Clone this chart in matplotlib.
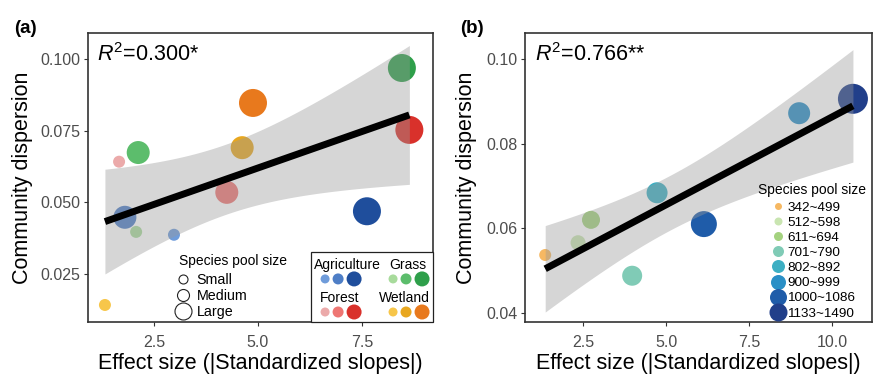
import numpy as np
import matplotlib
matplotlib.use("Agg")
import matplotlib.pyplot as plt
from matplotlib.lines import Line2D
from matplotlib.patches import Rectangle

plt.rcParams["font.family"] = "Liberation Sans"
plt.rcParams["mathtext.fontset"] = "custom"
plt.rcParams["mathtext.rm"] = "Liberation Sans"
plt.rcParams["mathtext.it"] = "Liberation Sans:italic"

# ---- panel (a): land-use groups, sized by species pool --------------------
a_effect = [1.32, 1.66, 1.80, 2.07, 2.12, 2.98, 4.25, 4.62, 4.88, 7.62, 8.46, 8.64]
a_disp = [0.0142, 0.0642, 0.0448, 0.0397, 0.0674, 0.0387,
          0.0535, 0.0691, 0.0847, 0.0469, 0.0969, 0.0753]
a_land = ["Wetland", "Forest", "Agriculture", "Grass", "Grass", "Agriculture",
          "Forest", "Wetland", "Wetland", "Agriculture", "Grass", "Forest"]
a_pool = ["Small", "Small", "Medium", "Small", "Medium", "Small",
          "Medium", "Medium", "Large", "Large", "Large", "Large"]
a_r2 = "0.300*"

land_types = ["Agriculture", "Grass", "Forest", "Wetland"]
pool_levels = ["Small", "Medium", "Large"]
land_colors = {
    "Agriculture": ["#6F9CDA", "#4E7EC6", "#1F4E9C"],
    "Grass": ["#A8DB9C", "#5CBD6C", "#2E9F4A"],
    "Forest": ["#EBAAAA", "#EE7673", "#D9312B"],
    "Wetland": ["#F7C64A", "#E8A71F", "#E8791D"],
}

# ---- panel (b): species pool size classes ---------------------------------
b_effect = [1.36, 2.35, 2.74, 3.98, 4.73, 6.14, 9.01, 10.63]
b_disp = [0.0537, 0.0566, 0.0620, 0.0488, 0.0684, 0.0610, 0.0872, 0.0906]
b_pool = ["342~499", "512~598", "611~694", "701~790",
          "802~892", "1000~1086", "900~999", "1133~1490"]
b_r2 = "0.766**"

b_classes = ["342~499", "512~598", "611~694", "701~790",
             "802~892", "900~999", "1000~1086", "1133~1490"]
b_colors = ["#F6B862", "#C9E5B1", "#A4D27F", "#80CBB6",
            "#3DAFC3", "#2A8FC6", "#1F5CA9", "#213F8A"]

# marker diameters in pixels (plot / legend)
a_diam = {"Small": 12, "Medium": 23, "Large": 28}
a_leg_diam = [9, 12, 17]
a_key_diam = [9, 11, 15]
b_diam = [12, 15, 18, 20, 21, 22, 26, 30]
b_leg_diam = [7, 8, 9, 11, 13, 15, 17, 18]

T975 = {6: 2.447, 10: 2.228}  # t quantiles for the 95% band


def px2pt(d):
    return d * 0.72


def smooth_band(x, y, n=80):
    x = np.asarray(x)
    y = np.asarray(y)
    slope, icpt = np.polyfit(x, y, 1)
    resid = y - (icpt + slope * x)
    df = len(x) - 2
    s = np.sqrt(np.sum(resid ** 2) / df)
    sxx = np.sum((x - x.mean()) ** 2)
    xs = np.linspace(x.min(), x.max(), n)
    fit = icpt + slope * xs
    half = T975[df] * s * np.sqrt(1 / len(x) + (xs - x.mean()) ** 2 / sxx)
    return xs, fit, fit - half, fit + half


def style_axes(ax):
    for sp in ax.spines.values():
        sp.set_color("#333333")
        sp.set_linewidth(1.2)
    ax.tick_params(direction="out", length=3, width=0.8, color="#333333",
                   labelcolor="#4D4D4D", labelsize=11.5)
    ax.tick_params(axis="y", pad=2.5)
    ax.tick_params(axis="x", pad=6.5)


fig = plt.figure(figsize=(8.89, 3.91), dpi=100)
ax_a = fig.add_axes([0.099, 0.1765, 0.388, 0.739])
ax_b = fig.add_axes([0.5906, 0.1765, 0.3903, 0.739])

# ---------------- panel (a) ----------------
cols_a = [land_colors[l][pool_levels.index(p)] for l, p in zip(a_land, a_pool)]
sizes_a = [px2pt(a_diam[p]) ** 2 for p in a_pool]
ax_a.scatter(a_effect, a_disp, s=sizes_a, c=cols_a, linewidths=0, zorder=2)
xs, fit, lo, hi = smooth_band(a_effect, a_disp)
ax_a.fill_between(xs, lo, hi, color="#999999", alpha=0.4, lw=0, zorder=3)
ax_a.plot(xs, fit, color="black", lw=5, solid_capstyle="butt", zorder=4)

ax_a.set_xlim(0.913, 9.207)
ax_a.set_ylim(0.00826, 0.1091)
ax_a.set_xticks([2.5, 5.0, 7.5])
ax_a.set_yticks([0.025, 0.050, 0.075, 0.100])
ax_a.set_yticklabels(["0.025", "0.050", "0.075", "0.100"])
style_axes(ax_a)
ax_a.text(0.026, 0.924, r"$R^{\mathregular{2}}$=" + a_r2,
          transform=ax_a.transAxes, fontsize=15.5, va="center", ha="left")

# size legend
size_handles = [Line2D([], [], ls="", marker="o", ms=px2pt(d), mfc="none",
                       mec="#222222", mew=0.8) for d in a_leg_diam]
ax_a.legend(size_handles, pool_levels, loc="upper left",
            bbox_to_anchor=(0.251, 0.168), frameon=False, fontsize=10.3,
            handlelength=1.2, handletextpad=0.35, labelspacing=0.14,
            borderpad=0, borderaxespad=0)
ax_a.text(0.264, 0.211, "Species pool size", transform=ax_a.transAxes,
          fontsize=10, va="center", ha="left")

# land-use key in a box (bottom right)
ax_a.add_patch(Rectangle((0.646, 0.0), 0.354, 0.242, transform=ax_a.transAxes,
                         facecolor="white", edgecolor="#222222", lw=0.9,
                         zorder=6, clip_on=False))
key_pos = {"Agriculture": (0.751, 0.197, 0.725, 0.149),
           "Grass": (0.928, 0.197, 0.922, 0.149),
           "Forest": (0.730, 0.083, 0.725, 0.0346),
           "Wetland": (0.916, 0.083, 0.922, 0.0346)}
dot_offsets = [-0.0377, 0.0, 0.0464]
for land in land_types:
    tx, ty, dx, dy = key_pos[land]
    ax_a.text(tx, ty, land, transform=ax_a.transAxes, fontsize=10,
              ha="center", va="center", zorder=7)
    ax_a.scatter([dx + o for o in dot_offsets], [dy] * 3,
                 s=[px2pt(d) ** 2 for d in a_key_diam], c=land_colors[land],
                 linewidths=0, transform=ax_a.transAxes, zorder=7, clip_on=False)

# ---------------- panel (b) ----------------
cols_b = [b_colors[b_classes.index(p)] for p in b_pool]
sizes_b = [px2pt(b_diam[b_classes.index(p)]) ** 2 for p in b_pool]
ax_b.scatter(b_effect, b_disp, s=sizes_b, c=cols_b, linewidths=0, zorder=2)
xs, fit, lo, hi = smooth_band(b_effect, b_disp)
ax_b.fill_between(xs, lo, hi, color="#999999", alpha=0.4, lw=0, zorder=3)
ax_b.plot(xs, fit, color="black", lw=5, solid_capstyle="butt", zorder=4)

ax_b.set_xlim(0.753, 11.205)
ax_b.set_ylim(0.03787, 0.10614)
ax_b.set_xticks([2.5, 5.0, 7.5, 10.0])
ax_b.set_yticks([0.04, 0.06, 0.08, 0.10])
ax_b.set_yticklabels(["0.04", "0.06", "0.08", "0.10"])
style_axes(ax_b)
ax_b.text(0.029, 0.924, r"$R^{\mathregular{2}}$=" + b_r2,
          transform=ax_b.transAxes, fontsize=15.5, va="center", ha="left")

pool_handles = [Line2D([], [], ls="", marker="o", ms=px2pt(d), mfc=c, mec="none")
                for d, c in zip(b_leg_diam, b_colors)]
ax_b.legend(pool_handles, b_classes, loc="upper left",
            bbox_to_anchor=(0.711, 0.418), frameon=False, fontsize=9.7,
            handlelength=1.0, handletextpad=0.15, labelspacing=0.2,
            borderpad=0, borderaxespad=0)
ax_b.text(0.671, 0.457, "Species pool size", transform=ax_b.transAxes,
          fontsize=10, va="center", ha="left")

# ---------------- labels ----------------
for ax, yl in [(ax_a, -0.159), (ax_b, -0.138)]:
    ax.set_xlabel("Effect size (|Standardized slopes|)", fontsize=15.5)
    ax.set_ylabel("Community dispersion", fontsize=15.5)
    ax.xaxis.set_label_coords(0.5, -0.106)
    ax.yaxis.set_label_coords(yl, 0.5)

fig.text(0.029, 0.926, "(a)", fontsize=13.5, fontweight="bold",
         ha="center", va="center")
fig.text(0.531, 0.926, "(b)", fontsize=13.5, fontweight="bold",
         ha="center", va="center")

fig.savefig("out.png", dpi=100)
